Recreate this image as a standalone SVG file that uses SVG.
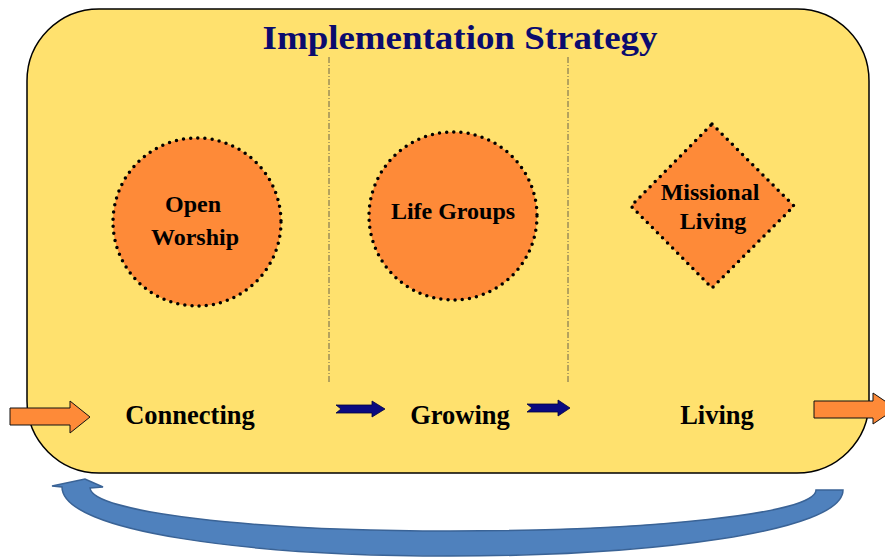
<svg xmlns="http://www.w3.org/2000/svg" width="885" height="557" viewBox="0 0 885 557">
  <style>
    text { font-family: 'Liberation Serif', 'Times New Roman', serif; font-weight: 700; text-anchor: middle; fill: #000; }
    .title { fill: #0B0B6E; }
    .node { fill: #FE8A38; stroke: #000; stroke-width: 3.5; stroke-dasharray: 0 7.2; stroke-linecap: round; }
    .divider { stroke: #444; stroke-width: 0.8; stroke-dasharray: 6 2 1 2; fill: none; }
    .flow { fill: #FE8A38; stroke: #111; stroke-width: 1; }
    .step { fill: #0A0A80; stroke: #000040; stroke-width: 0.8; }
  </style>

  <!-- background panel -->
  <rect x="27" y="9" width="842" height="464" rx="72" ry="72" fill="#FFE16E" stroke="#000" stroke-width="1.5"/>

  <text x="460" y="49" class="title" font-size="34" textLength="395" lengthAdjust="spacingAndGlyphs">Implementation Strategy</text>

  <!-- column dividers -->
  <line x1="329" y1="57" x2="329" y2="383" class="divider"/>
  <line x1="568" y1="57" x2="568" y2="383" class="divider"/>

  <g id="open-worship">
    <circle cx="197" cy="222" r="84" class="node"/>
    <text x="193" y="212" font-size="24">Open</text>
    <text x="195" y="245" font-size="24">Worship</text>
  </g>

  <g id="life-groups">
    <circle cx="453" cy="216" r="84" class="node"/>
    <text x="453" y="219" font-size="24">Life Groups</text>
  </g>

  <g id="missional-living">
    <polygon points="712,124 794,206 712,288 631,206" class="node"/>
    <text x="710" y="200" font-size="24">Missional</text>
    <text x="713" y="229" font-size="24">Living</text>
  </g>

  <g id="stage-labels">
    <text x="190" y="424" font-size="26.5">Connecting</text>
    <text x="460" y="424" font-size="26.5">Growing</text>
    <text x="717" y="424" font-size="26.5">Living</text>
  </g>

  <g id="connectors">
    <!-- entry and exit -->
    <path class="flow" d="M10 408 L70 408 L70 401 L90 417 L70 433 L70 425 L10 425 Z"/>
    <path class="flow" d="M814 401 L873 401 L873 393 L896 408.5 L873 424 L873 418 L814 418 Z"/>
    <!-- stage steps -->
    <path class="step" d="M336 405 L372 405 L372 401 L385 409 L372 417 L372 413 L336 413 L341 409 Z"/>
    <path class="step" d="M527 404 L558 404 L558 400 L570 408 L558 416 L558 412 L527 412 L532 408 Z"/>
    <!-- return loop -->
    <path fill="#4F81BD" stroke="#3A6396" stroke-width="1.5" d="M843 490 C843 532 650 556 450 556 C250 556 62 532 62 487 L52 486 L85 479 L103 487 L90 488 C92 512 250 531 450 531 C650 531 816 514 816 490 Z"/>
  </g>
</svg>
